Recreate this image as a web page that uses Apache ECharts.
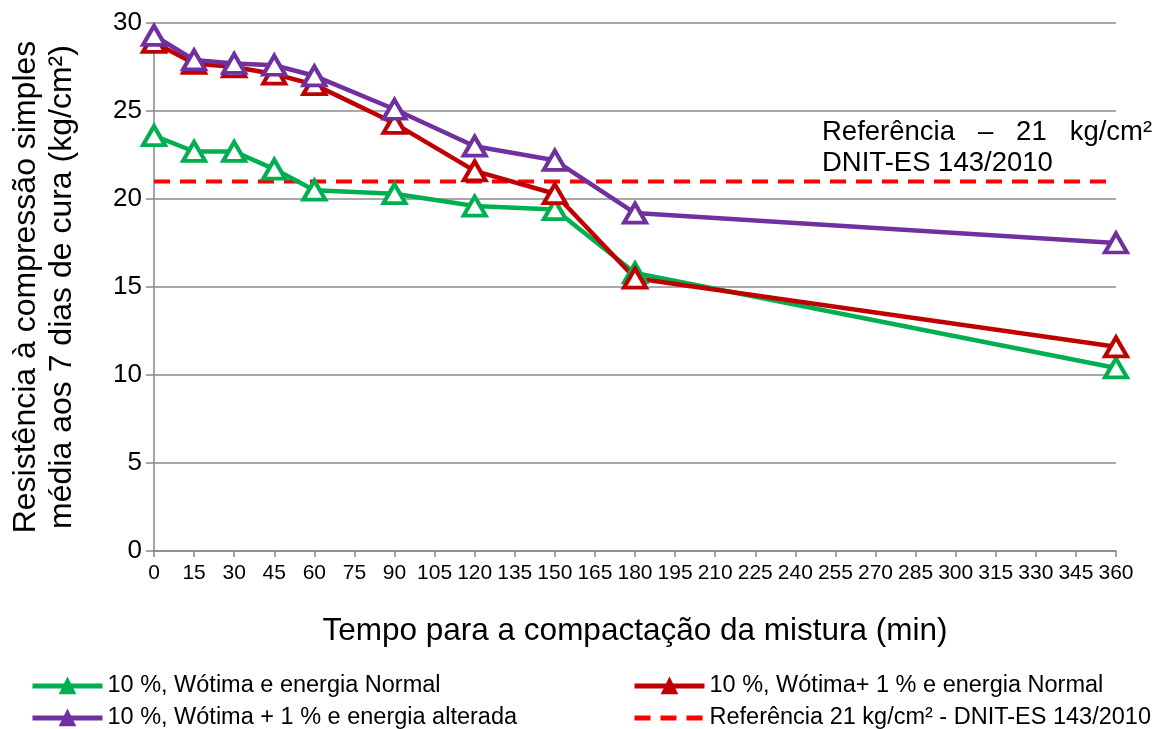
<!DOCTYPE html>
<html>
<head>
<meta charset="utf-8">
<script src="https://cdn.jsdelivr.net/npm/echarts@6/dist/echarts.min.js"></script>
<style>html,body{margin:0;padding:0;background:#fff}#c{width:1168px;height:729px}</style>
</head>
<body>
<div id="c"></div>
<script>
const xTimes = [0, 15, 30, 45, 60, 90, 120, 150, 180, 360];
const greenVals = [23.6, 22.7, 22.7, 21.7, 20.5, 20.3, 19.6, 19.4, 15.8, 10.4];
const redVals = [28.9, 27.7, 27.5, 27.1, 26.5, 24.3, 21.6, 20.3, 15.5, 11.6];
const purpleVals = [29.3, 27.9, 27.7, 27.6, 27.0, 25.1, 23.0, 22.2, 19.2, 17.5];
const refX = [0, 360];
const refY = [21, 21];

const nameGreen = '10 %, Wótima e energia Normal';
const nameRed = '10 %, Wótima+ 1 % e energia Normal';
const namePurple = '10 %, Wótima + 1 % e energia alterada';
const nameRef = 'Referência 21 kg/cm² - DNIT-ES 143/2010';
const yTitle = 'Resistência à compressão simples\nmédia aos 7 dias de cura (kg/cm²)';
const xTitle = 'Tempo para a compactação da mistura (min)';
const noteLines = ['Referência   –   21   kg/cm²', 'DNIT-ES 143/2010'];

const FONT = 'Liberation Sans, Arial, sans-serif';
const pair = (xs, ys) => xs.map((x, i) => [x, ys[i]]);

function lineSeries(name, vals, color) {
  return {
    name, type: 'line', data: pair(xTimes, vals),
    symbol: 'triangle', symbolSize: [22, 19],
    lineStyle: { color, width: 4.5 },
    itemStyle: { color: '#ffffff', borderColor: color, borderWidth: 4 },
    animation: false, z: 3
  };
}

function legendFor(name, left, top, color, hideSymbol) {
  const l = {
    left, top, orient: 'horizontal', padding: 0,
    itemWidth: 70, itemHeight: 18, itemGap: 6,
    textStyle: { fontSize: 23.5, color: '#000', fontFamily: FONT },
    lineStyle: { width: 5 },
    itemStyle: { color: color, borderColor: color, borderWidth: 2 },
    data: [name]
  };
  if (hideSymbol) l.itemStyle = { opacity: 0 };
  return l;
}

const chart = echarts.init(document.getElementById('c'));
chart.setOption({
  animation: false,
  textStyle: { fontFamily: FONT },
  grid: { left: 152, right: 52, top: 23, bottom: 178 },
  xAxis: {
    type: 'value', min: 0, max: 360, interval: 15,
    name: xTitle, nameLocation: 'middle', nameGap: 64,
    nameTextStyle: { fontSize: 31.5, color: '#000', fontFamily: FONT },
    axisLine: { show: true, lineStyle: { color: '#868686', width: 1.5 } },
    axisTick: { show: true, length: 6, lineStyle: { color: '#868686', width: 1.5 } },
    axisLabel: { color: '#000', fontSize: 21, margin: 12, fontFamily: FONT, hideOverlap: false },
    splitLine: { show: false }
  },
  yAxis: {
    type: 'value', min: 0, max: 30, interval: 5,
    name: yTitle, nameLocation: 'middle', nameGap: 74, nameRotate: 90,
    nameTextStyle: { fontSize: 32, lineHeight: 36, color: '#000', fontFamily: FONT, align: 'center' },
    axisLine: { show: true, lineStyle: { color: '#868686', width: 1.5 } },
    axisTick: { show: true, length: 8, lineStyle: { color: '#868686', width: 1.5 } },
    axisLabel: { color: '#000', fontSize: 26, margin: 12, fontFamily: FONT },
    splitLine: { show: true, lineStyle: { color: '#8c8c8c', width: 1.5 } }
  },
  legend: [
    legendFor(nameGreen, 30, 674, '#00b050', false),
    legendFor(namePurple, 30, 706, '#7030a0', false),
    legendFor(nameRed, 632, 674, '#c00000', false),
    legendFor(nameRef, 632, 706, '#ff0000', true)
  ],
  graphic: [
    {
      type: 'text', left: 822, top: 117,
      style: { text: noteLines.join('\n'), fontSize: 27.5, lineHeight: 31, fill: '#000', fontFamily: FONT }
    }
  ],
  series: [
    {
      name: nameRef, type: 'line', data: pair(refX, refY),
      symbol: 'none', z: 2,
      lineStyle: { color: '#ff0000', width: 4, type: [16, 10] },
      itemStyle: { color: '#ff0000' }
    },
    lineSeries(nameGreen, greenVals, '#00b050'),
    lineSeries(nameRed, redVals, '#c00000'),
    lineSeries(namePurple, purpleVals, '#7030a0')
  ]
});
</script>
</body>
</html>
